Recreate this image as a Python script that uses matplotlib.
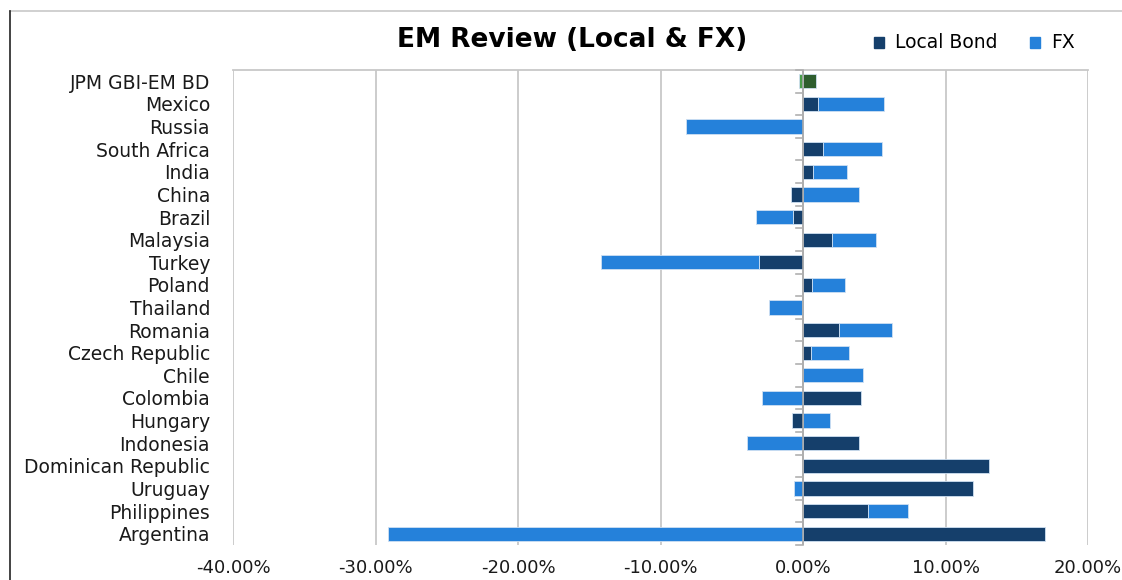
import numpy as np
import matplotlib
matplotlib.use("Agg")
import matplotlib.pyplot as plt
from matplotlib.ticker import FuncFormatter
from matplotlib.patches import Rectangle

plt.rcParams['font.family'] = ['DejaVu Sans']

# data (% returns)
countries = ['JPM GBI-EM BD', 'Mexico', 'Russia', 'South Africa', 'India', 'China',
             'Brazil', 'Malaysia', 'Turkey', 'Poland', 'Thailand', 'Romania',
             'Czech Republic', 'Chile', 'Colombia', 'Hungary', 'Indonesia',
             'Dominican Republic', 'Uruguay', 'Philippines', 'Argentina']
local_bond = [0.9, 1.07, 0.0, 1.38, 0.68, -0.86, -0.68, 2.01, -3.11, 0.66, -0.07,
              2.55, 0.54, 0.0, 4.05, -0.79, 3.95, 13.06, 11.9, 4.56, 17.0]
fx = [-0.25, 4.63, -8.2, 4.18, 2.38, 3.93, -2.62, 3.11, -11.06, 2.31, -2.29,
      3.67, 2.69, 4.18, -2.9, 1.89, -3.9, 0.0, -0.66, 2.78, -29.1]
series = ['Local Bond', 'FX']

dark = '#153f6b'
light = '#2581da'
dark_green = '#2e5e2e'
light_green = '#4c9f4c'

W, H = 1122, 580
fig = plt.figure(figsize=(W/100, H/100), dpi=100)
ax = fig.add_axes([233/W, 1-545/H, (1088-233)/W, (545-70)/H])

y = np.arange(len(countries))
lb = np.array(local_bond)
fxv = np.array(fx)
fx_left = np.where(np.sign(fxv) == np.sign(lb), lb, 0.0)

c_lb = [dark] * len(y)
c_fx = [light] * len(y)
c_lb[0] = dark_green
c_fx[0] = light_green

h = 0.63
ax.barh(y, lb, height=h, color=c_lb, edgecolor='#cfe0f2', linewidth=0.6, zorder=3)
ax.barh(y, fxv, left=fx_left, height=h, color=c_fx, edgecolor='#cfe0f2', linewidth=0.6, zorder=3)

ax.set_xlim(-40, 20)
ax.set_ylim(len(y) - 0.5, -0.5)
ax.set_xticks(np.arange(-40, 21, 10))
ax.xaxis.set_major_formatter(FuncFormatter(lambda v, p: '{:.2f}%'.format(v)))
ax.grid(axis='x', color='#c8c8c8', linewidth=1.3, zorder=0)
ax.tick_params(axis='x', length=0, labelsize=13, pad=10, colors='#1a1a1a')

for s in ['left', 'right', 'bottom']:
    ax.spines[s].set_visible(False)
ax.spines['top'].set_color('#c8c8c8')
ax.spines['top'].set_linewidth(1.3)

ax.set_yticks(y)
ax.set_yticklabels(countries)
ax.tick_params(axis='y', length=0, labelsize=13.5, pad=16.5, colors='#1a1a1a')

# value axis at zero with small ticks between categories
ax.axvline(0, color='#a8a8a8', linewidth=1.2, zorder=4)
for b in np.arange(-0.5, len(y), 1.0):
    ax.plot([-0.5, 0], [b, b], color='#b0b0b0', linewidth=1.2, zorder=4, clip_on=False)

fig.text(572/W, 1-40/H, 'EM Review (Local & FX)', ha='center', va='center',
         fontsize=19, fontweight='bold')

# legend
for name, col, x0 in zip(series, [dark, light], [874, 1030]):
    fig.add_artist(Rectangle((x0/W, 1-48/H), 10/W, 11/H, color=col, transform=fig.transFigure))
    fig.text((x0 + 21)/W, 1-42/H, name, ha='left', va='center', fontsize=13.5)

# chart frame edges
fig.add_artist(plt.Line2D([10/W, 1], [1-11/H, 1-11/H], color='#c8c8c8', linewidth=1.2))
fig.add_artist(plt.Line2D([10/W, 10/W], [0, 1-11/H], color='#222222', linewidth=1.2))

fig.savefig('out.png', dpi=100)
